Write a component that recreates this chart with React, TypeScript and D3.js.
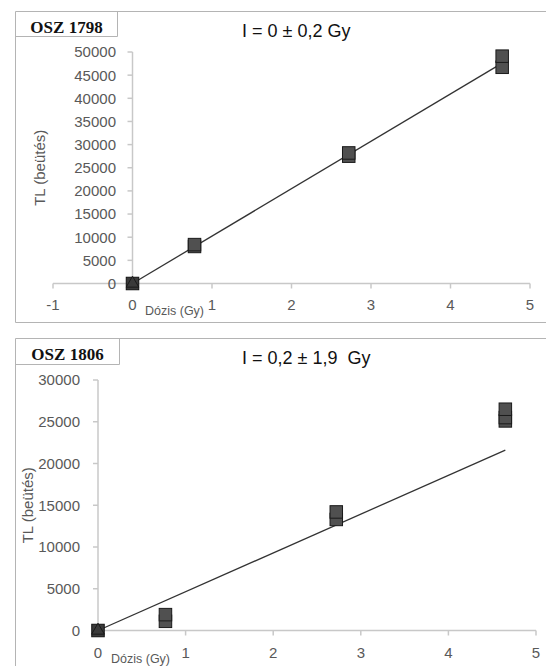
import React from 'react';
import * as d3 from 'd3';

// panel 1: OSZ 1798
const dose1 = [0.78, 0.78, 2.72, 2.72, 4.65, 4.65];
const tl1 = [8000, 8400, 27500, 28200, 46700, 49100];
const fitDose1 = [0, 4.65];
const fitTl1 = [0, 47600];
const xTicks1 = [-1, 0, 1, 2, 3, 4, 5];
const yTicks1 = [0, 5000, 10000, 15000, 20000, 25000, 30000, 35000, 40000, 45000, 50000];

// panel 2: OSZ 1806
const dose2 = [0.77, 0.77, 2.72, 2.72, 4.65, 4.65, 4.65];
const tl2 = [1100, 1900, 13300, 14200, 25100, 25500, 26500];
const fitDose2 = [0, 4.65];
const fitTl2 = [0, 21600];
const xTicks2 = [0, 1, 2, 3, 4, 5];
const yTicks2 = [0, 5000, 10000, 15000, 20000, 25000, 30000];

const AXIS = '#c8c8c8';
const LABEL = '#595959';
const BORDER = '#b4b4b4';
const SANS = '"Liberation Sans", Arial, sans-serif';

type PanelProps = {
  top: number;
  bottom: number;
  boxW: number;
  boxH: number;
  name: string;
  title: string;
  dose: number[];
  tl: number[];
  fitDose: number[];
  fitTl: number[];
  xTicks: number[];
  yTicks: number[];
  xRange: [number, number];
  yRange: [number, number];
  xDomain: [number, number];
  yMax: number;
  yLabelRight: number;
  yTitleX: number;
  xLabelBase: number;
  doseLabelX: number;
  doseLabelBase: number;
};

function Panel(p: PanelProps) {
  const x = d3.scaleLinear().domain(p.xDomain).range(p.xRange);
  const y = d3.scaleLinear().domain([0, p.yMax]).range(p.yRange);
  const x0 = x(0);
  const y0 = y(0);
  const line = d3.line<number>()
    .x((_, i) => x(p.fitDose[i]))
    .y(d => y(d));
  const s = 12.5;
  const tri = d3.symbol(d3.symbolTriangle, 70)();

  return (
    <g>
      {/* frame */}
      <path d={`M560,${p.bottom} H15.5 V${p.top + 0.5} H560`} fill="none" stroke={BORDER} />
      <path d={`M15.5,${p.top + p.boxH + 0.5} H${15.5 + p.boxW} V${p.top + 0.5}`} fill="none" stroke={BORDER} />
      <text x={15.5 + p.boxW / 2} y={p.top + 21.5} textAnchor="middle"
        fontFamily='"Liberation Serif", "Times New Roman", serif' fontWeight="bold" fontSize={17} fill="#111">
        {p.name}
      </text>
      <text x={242} y={p.top + 25.5} fontFamily={SANS} fontSize={18} fill="#111" style={{ whiteSpace: 'pre' }}>
        {p.title}
      </text>

      {/* axes */}
      <line x1={x(p.xDomain[0])} x2={x(p.xDomain[1])} y1={y0} y2={y0} stroke={AXIS} strokeWidth={1.5} />
      <line x1={x0} x2={x0} y1={y(p.yMax)} y2={y0} stroke={AXIS} strokeWidth={1.5} />
      {p.xTicks.map(t => (
        <g key={'x' + t}>
          <line x1={x(t)} x2={x(t)} y1={y0} y2={y0 + 5} stroke={AXIS} strokeWidth={1.5} />
          <text x={x(t)} y={p.xLabelBase} textAnchor="middle" fontFamily={SANS} fontSize={15} fill={LABEL}>{t}</text>
        </g>
      ))}
      {p.yTicks.map(t => (
        <g key={'y' + t}>
          <line x1={x0 - 5} x2={x0} y1={y(t)} y2={y(t)} stroke={AXIS} strokeWidth={1.5} />
          <text x={p.yLabelRight} y={y(t)} dy="0.36em" textAnchor="end" fontFamily={SANS} fontSize={15} fill={LABEL}>{t}</text>
        </g>
      ))}
      <text transform={`translate(${p.yTitleX},${(y(p.yMax) + y0) / 2}) rotate(-90)`} textAnchor="middle"
        fontFamily={SANS} fontSize={15} fill={LABEL}>TL (beütés)</text>
      <text x={p.doseLabelX} y={p.doseLabelBase} fontFamily={SANS} fontSize={12.5} fill={LABEL}>Dózis (Gy)</text>

      {/* fit line */}
      <path d={line(p.fitTl) || ''} fill="none" stroke="#333" strokeWidth={1.3} />

      {/* origin marker: square with triangle */}
      <rect x={x0 - s / 2} y={y0 - s / 2} width={s} height={s} fill="#3a3a3a" stroke="#111" />
      <path d={tri} transform={`translate(${x0},${y0})`} fill="#3a3a3a" stroke="#111" strokeWidth={0.8} />

      {/* measurements */}
      {p.dose.map((d, i) => (
        <rect key={i} x={x(d) - s / 2} y={y(p.tl[i]) - s / 2} width={s} height={s}
          fill="#505050" stroke="#1a1a1a" strokeWidth={1} />
      ))}
    </g>
  );
}

export default function App() {
  return (
    <svg width={546} height={666} style={{ position: 'absolute', left: 0, top: 0, background: '#fff' }}>
      <Panel top={11} bottom={322.5} boxW={102} boxH={25} name="OSZ 1798" title="I = 0 ± 0,2 Gy"
        dose={dose1} tl={tl1} fitDose={fitDose1} fitTl={fitTl1}
        xTicks={xTicks1} yTicks={yTicks1}
        xDomain={[-1, 5]} xRange={[53, 530]} yMax={50000} yRange={[283.5, 52]}
        yLabelRight={116} yTitleX={45} xLabelBase={310} doseLabelX={145} doseLabelBase={315} />
      <Panel top={338} bottom={720} boxW={104} boxH={26} name="OSZ 1806" title="I = 0,2 ± 1,9  Gy"
        dose={dose2} tl={tl2} fitDose={fitDose2} fitTl={fitTl2}
        xTicks={xTicks2} yTicks={yTicks2}
        xDomain={[0, 5]} xRange={[98, 536]} yMax={30000} yRange={[630.5, 380]}
        yLabelRight={80} yTitleX={33} xLabelBase={658} doseLabelX={111} doseLabelBase={663} />
    </svg>
  );
}
